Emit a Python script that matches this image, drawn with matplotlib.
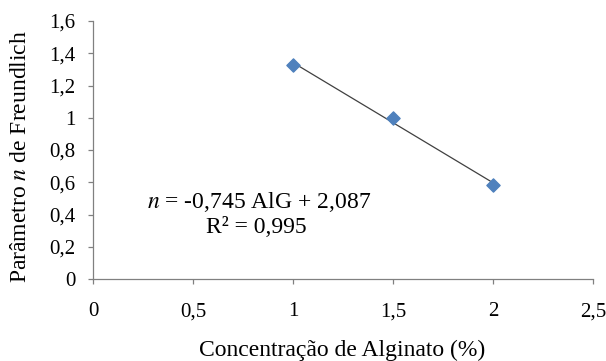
import matplotlib
matplotlib.use('Agg')
import matplotlib.pyplot as plt
import numpy as np

# alginate concentration (%) vs Freundlich n parameter
alginato = [1.0, 1.5, 2.0]
n_freundlich = [1.327, 0.997, 0.582]
slope = -0.745
intercept = 2.087
r2 = 0.995

xticks = [0, 0.5, 1, 1.5, 2, 2.5]
yticks = [0, 0.2, 0.4, 0.6, 0.8, 1.0, 1.2, 1.4, 1.6]

plt.rcParams['font.family'] = 'Liberation Serif'
plt.rcParams['mathtext.fontset'] = 'stix'

W, H = 606, 361


def virgula(v):
    s = ('%g' % v).replace('.', ',')
    return s


fig = plt.figure(figsize=(W / 100, H / 100), dpi=100)
ax = fig.add_axes([93 / W, 1 - 279 / H, 500 / W, 258 / H])

# linear trendline over the data range
xl = np.array([min(alginato), max(alginato)])
ax.plot(xl, slope * xl + intercept, color='#404040', lw=0.9, zorder=2)
ax.scatter(alginato, n_freundlich, marker='D', s=45, color='#4F81BD',
           edgecolors='#4F81BD', zorder=3)

ax.set_xlim(0, 2.5)
ax.set_ylim(0, 1.6)
ax.set_xticks(xticks)
ax.set_yticks(yticks)
ax.set_xticklabels([virgula(v) for v in xticks])
ax.set_yticklabels([virgula(v) for v in yticks])
ax.tick_params(axis='both', direction='out', length=3.6, width=0.9,
               color='#808080', labelsize=15)
ax.tick_params(axis='x', pad=13)
ax.tick_params(axis='y', pad=9)

for side in ['top', 'right']:
    ax.spines[side].set_visible(False)
for side in ['left', 'bottom']:
    ax.spines[side].set_color('#808080')
    ax.spines[side].set_linewidth(0.9)

# axis titles placed in figure pixels
fig.text(342 / W, 1 - 356 / H, 'Concentração de Alginato (%)', fontsize=17,
         ha='center', va='baseline')
fig.text(21 / W, 1 - 156 / H, r'Parâmetro $\mathit{n}$ de Freundlich',
         fontsize=17, rotation=90, ha='center', va='center')

eq = r'$\mathit{n}$ = ' + virgula(slope) + ' AlG + ' + virgula(intercept)
fig.text(259 / W, 1 - 208 / H, eq, fontsize=17, ha='center', va='baseline')
fig.text(256 / W, 1 - 233 / H, 'R² = ' + virgula(r2), fontsize=17,
         ha='center', va='baseline')

fig.savefig('out.png', dpi=100)
